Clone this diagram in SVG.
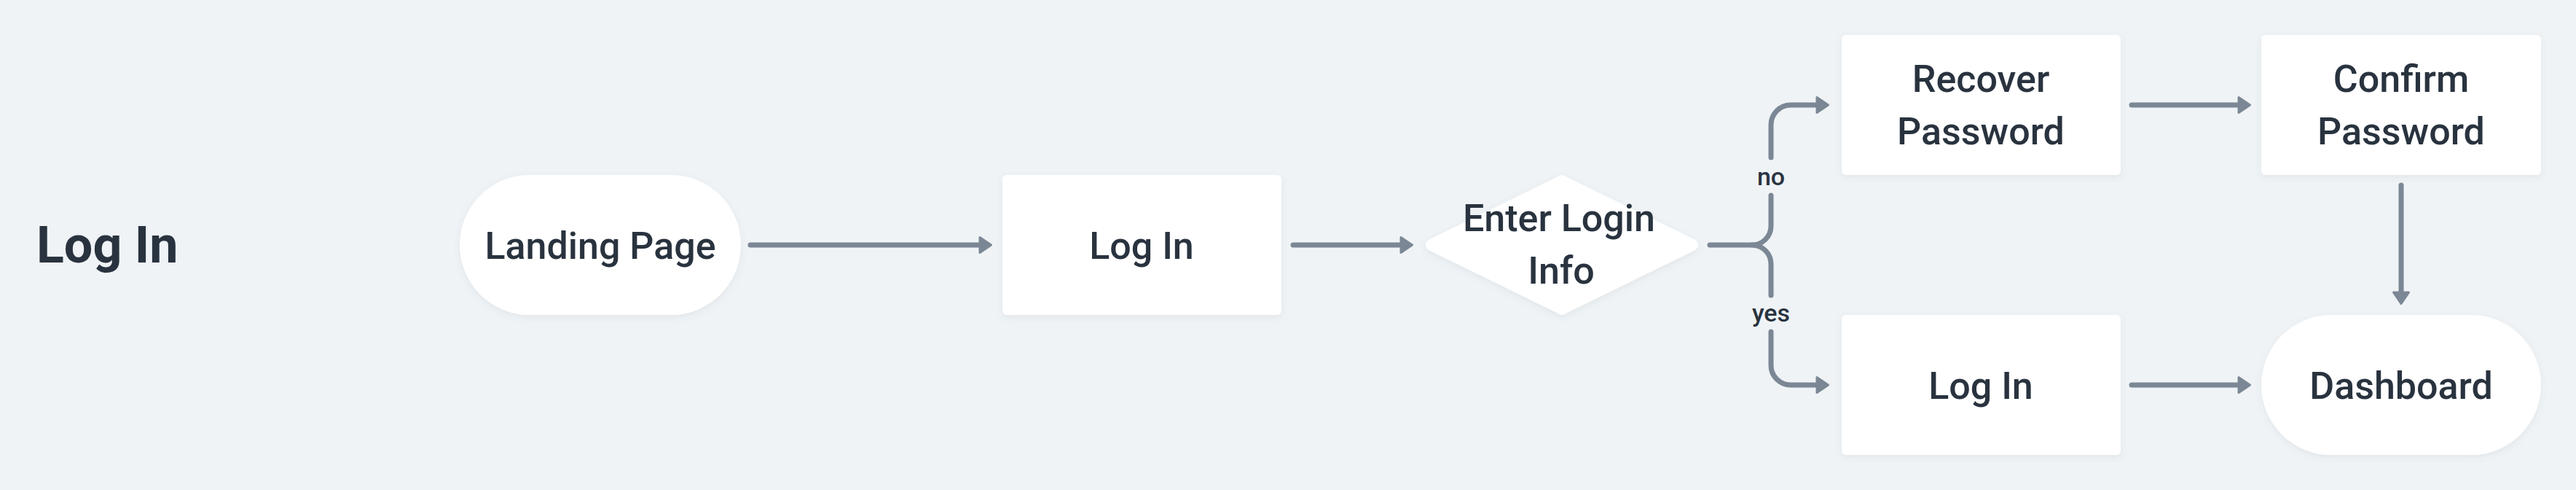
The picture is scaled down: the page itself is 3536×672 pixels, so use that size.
<svg xmlns="http://www.w3.org/2000/svg" width="3536" height="672" viewBox="0 0 3536 672">
<style>
.bg{fill:#eff3f6}
.node{fill:#ffffff;filter:url(#sh)}
.lbl{font-family:Roboto,"Liberation Sans",sans-serif;font-weight:500;font-size:52px;fill:#29333f;text-anchor:middle}
.title{font-family:Roboto,"Liberation Sans",sans-serif;font-weight:700;font-size:70px;fill:#29333f}
.edge{fill:none;stroke:#7b8794;stroke-width:7;stroke-linecap:round;stroke-linejoin:round}
.elbl{font-family:Roboto,"Liberation Sans",sans-serif;font-weight:500;font-size:34px;fill:#29333f;text-anchor:middle}
</style>
<defs>
<filter id="sh" x="-10%" y="-10%" width="120%" height="130%">
<feDropShadow dx="0" dy="3" stdDeviation="4" flood-color="#5a6b7d" flood-opacity="0.10"/>
</filter>
<marker id="ah" viewBox="-3 -15 24 30" markerWidth="24" markerHeight="30" refX="0" refY="0" orient="auto" markerUnits="userSpaceOnUse">
<path d="M0,-10.5 L15.5,0 L0,10.5 Z" fill="#7b8794" stroke="#7b8794" stroke-width="3" stroke-linejoin="round"/>
</marker>
</defs>
<rect class="bg" x="0" y="0" width="3536" height="672"/>
<text class="title" x="50" y="360">Log In</text>
<g id="connectors">
<path class="edge" d="M1030,336 H1345" marker-end="url(#ah)"/>
<path class="edge" d="M1775,336 H1923" marker-end="url(#ah)"/>
<path class="edge" d="M2347,336 H2405 A26,26 0 0 0 2431,310 V268"/>
<path class="edge" d="M2431,216 V171 A27,27 0 0 1 2458,144 H2494" marker-end="url(#ah)"/>
<path class="edge" d="M2405,336 A26,26 0 0 1 2431,362 V405"/>
<path class="edge" d="M2431,455 V501 A27,27 0 0 0 2458,528 H2494" marker-end="url(#ah)"/>
<text class="elbl" x="2431" y="254">no</text>
<text class="elbl" x="2431" y="441">yes</text>
<path class="edge" d="M2926,144 H3073" marker-end="url(#ah)"/>
<path class="edge" d="M2926,528 H3073" marker-end="url(#ah)"/>
<path class="edge" d="M3296,254 V401" marker-end="url(#ah)"/>
</g>
<g id="landing">
<rect class="node" x="631" y="240" width="386" height="192" rx="96"/>
<text class="lbl" x="824" y="355">Landing Page</text>
</g>
<g id="login1">
<rect class="node" x="1376" y="240" width="383" height="192" rx="6"/>
<text class="lbl" x="1567" y="355">Log In</text>
</g>
<g id="enter">
<path class="node" d="M2137,243 Q2144,237 2151,243 L2327,329 Q2335,336 2327,343 L2151,429 Q2144,435 2137,429 L1961,343 Q1953,336 1961,329 Z"/>
<text class="lbl" x="2140" y="317">Enter Login</text>
<text class="lbl" x="2143" y="389">Info</text>
</g>
<g id="recover">
<rect class="node" x="2528" y="48" width="383" height="192" rx="6"/>
<text class="lbl" x="2719" y="126">Recover</text>
<text class="lbl" x="2719" y="198">Password</text>
</g>
<g id="login2">
<rect class="node" x="2528" y="432" width="383" height="192" rx="6"/>
<text class="lbl" x="2719" y="547">Log In</text>
</g>
<g id="confirm">
<rect class="node" x="3104" y="48" width="384" height="192" rx="6"/>
<text class="lbl" x="3296" y="126">Confirm</text>
<text class="lbl" x="3296" y="198">Password</text>
</g>
<g id="dashboard">
<rect class="node" x="3104" y="432" width="384" height="192" rx="96"/>
<text class="lbl" x="3296" y="547">Dashboard</text>
</g>
</svg>
